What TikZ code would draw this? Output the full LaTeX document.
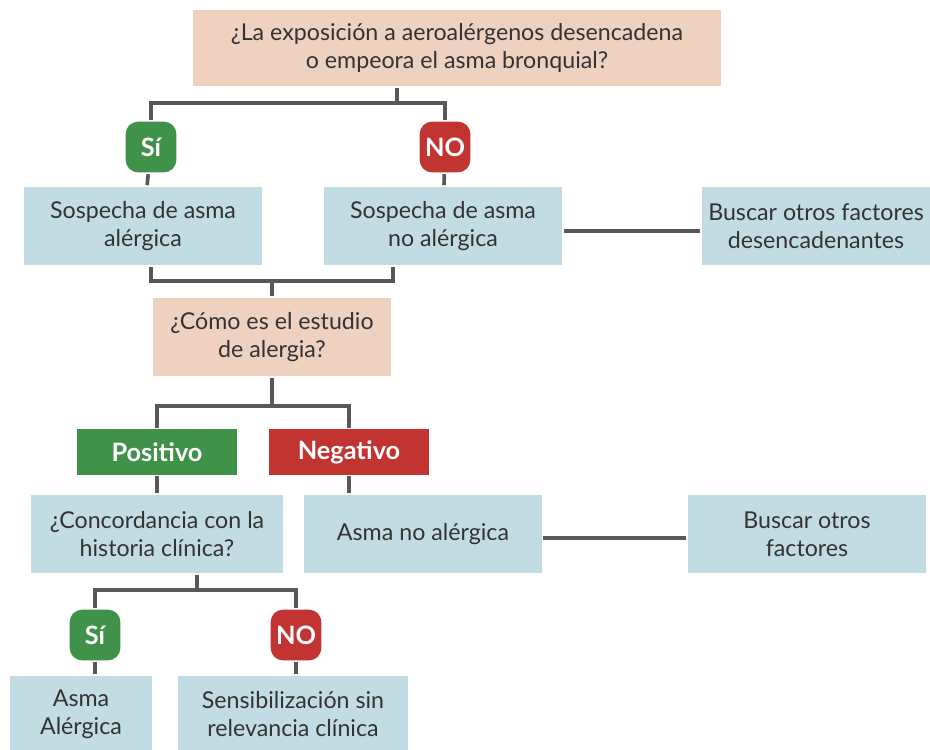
\documentclass[tikz,border=0pt]{standalone}
\usepackage{fontspec}
\setmainfont{Lato}
\definecolor{peach}{HTML}{EFD1C0}
\definecolor{pale}{HTML}{C2DCE4}
\definecolor{okgreen}{HTML}{40924B}
\definecolor{nored}{HTML}{C13431}
\definecolor{wire}{HTML}{58585A}
\definecolor{ink}{HTML}{333333}
\begin{document}
\begin{tikzpicture}[x=0.025cm, y=-0.025cm,
    line width=2.6pt, wire,
    box/.style = {fill=pale, text=ink, align=center, inner sep=0pt, font=\fontsize{16.5}{20}\selectfont},
    ask/.style = {box, fill=peach},
    yes/.style = {fill=okgreen, text=white, rounded corners=9pt, minimum size=1.27cm, inner sep=0pt, font=\fontsize{18}{20}\selectfont\bfseries},
    nope/.style = {yes, fill=nored},
    tag/.style = {fill=#1, text=white, minimum width=4cm, minimum height=1.13cm, inner sep=0pt, font=\fontsize{18}{20}\selectfont\bfseries}]
    \useasboundingbox (0,0) rectangle (930,750);
    \node[ask, minimum width=13.22cm, minimum height=1.9cm] (q1) at (457,48) {¿La exposición a aeroalérgenos desencadena\\o empeora el asma bronquial?};
    \node[yes] (si1) at (151,147) {Sí};
    \node[nope] (no1) at (445,147) {NO};
    \node[box, minimum width=5.95cm, minimum height=1.95cm] (alerg) at (143,226) {Sospecha de asma\\alérgica};
    \node[box, minimum width=5.95cm, minimum height=1.95cm] (noalerg) at (443,226) {Sospecha de asma\\no alérgica};
    \node[box, minimum width=5.7cm, minimum height=1.95cm] (otros1) at (816,226) {Buscar otros factores\\desencadenantes};
    \node[ask, minimum width=5.95cm, minimum height=1.97cm] (q2) at (272,337) {¿Cómo es el estudio\\de alergia?};
    \node[tag=okgreen] (pos) at (157,452) {Positivo};
    \node[tag=nored] (neg) at (349,452) {Negativo};
    \node[box, minimum width=6.3cm, minimum height=1.95cm] (q3) at (157,534) {¿Concordancia con la\\historia clínica?};
    \node[box, minimum width=5.93cm, minimum height=1.95cm] (asmano) at (423,534) {Asma no alérgica};
    \node[box, minimum width=5.95cm, minimum height=1.95cm] (otros2) at (807,534) {Buscar otros\\factores};
    \node[yes] (si2) at (95,635) {Sí};
    \node[nope] (no2) at (296,635) {NO};
    \node[box, minimum width=3.53cm, minimum height=1.9cm] (final1) at (81,714) {Asma\\Alérgica};
    \node[box, minimum width=5.75cm, minimum height=1.9cm] (final2) at (293,714) {Sensibilización sin\\relevancia clínica};
    \coordinate (j1) at (397,103);
    \coordinate (j2) at (272,281);
    \coordinate (j3) at (272,406);
    \coordinate (j4) at (197,590);
    \draw (q1.south -| j1) -- (j1);
    \draw (si1) |- (j1) -| (no1);
    \draw (si1) -- (alerg);
    \draw (no1) -- (noalerg);
    \draw (noalerg.east |- 0,231) -- (otros1.west |- 0,231);
    \draw (alerg.south -| si1) |- (j2) -| (noalerg.south -| 393,0);
    \draw (j2) -- (q2);
    \draw (q2) -- (j3);
    \draw (pos) |- (j3) -| (neg);
    \draw (pos) -- (q3.north -| pos);
    \draw (neg) -- (asmano.north -| neg);
    \draw (asmano.east |- 0,538) -- (otros2.west |- 0,538);
    \draw (q3.south -| j4) -- (j4);
    \draw (si2) |- (j4) -| (no2);
    \draw (si2) -- (final1.north -| si2);
    \draw (no2) -- (final2.north -| no2);
\end{tikzpicture}
\end{document}
